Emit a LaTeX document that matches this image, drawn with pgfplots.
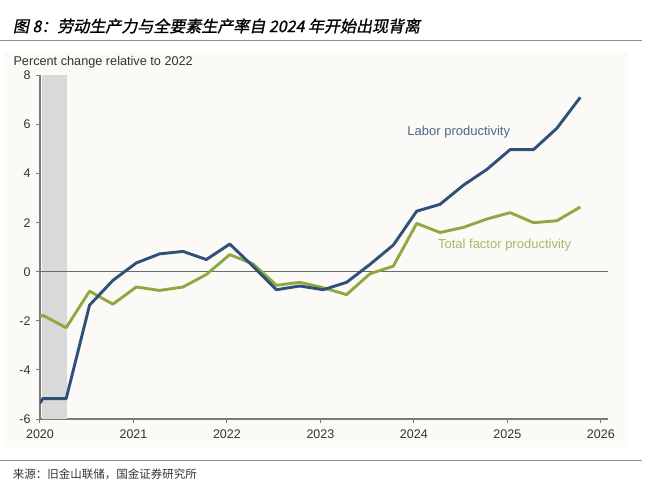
\documentclass[border=0pt]{standalone}
\usepackage{fontspec}
\usepackage{pgfplots}
\pgfplotsset{compat=1.18}
\setmainfont{Liberation Sans}
\newfontfamily\cjk{Noto Sans CJK SC}
\newfontfamily\cjktitle{Noto Sans CJK SC}[FakeSlant=0.2,FakeBold=1.2]
\definecolor{lab}{HTML}{2F5079}
\definecolor{tfp}{HTML}{8FA841}
\definecolor{labtxt}{HTML}{4F6788}
\definecolor{tfptxt}{HTML}{A6B86C}
\definecolor{axgray}{HTML}{7A7A7A}
\definecolor{zerogray}{HTML}{6A6A6A}
\definecolor{shade}{HTML}{D9D9D9}
\definecolor{panel}{HTML}{FBFAF6}
\definecolor{txt}{HTML}{333333}
\definecolor{rule}{HTML}{8C8C8C}
\begin{document}
\begin{tikzpicture}[x=1pt,y=1pt]
\path[use as bounding box] (0,0) rectangle (660,491);
\fill[panel] (4,44) rectangle (628,439);
\draw[rule,line width=1.1pt] (0,450.3) -- (642,450.3);
\draw[rule,line width=1.1pt] (0,30.7) -- (642,30.7);
\node[anchor=west,inner sep=0pt,text=black] at (12.7,465) {\cjktitle\fontsize{16}{18}\selectfont 图 8：劳动生产力与全要素生产率自 2024 年开始出现背离};
\node[anchor=west,inner sep=0pt,text=txt] at (12.7,17) {\cjk\fontsize{11.5}{13}\selectfont 来源：旧金山联储，国金证券研究所};
\node[anchor=west,inner sep=0pt,text=txt] at (13.3,429) {\fontsize{12.7}{15}\selectfont Percent change relative to 2022};
\begin{axis}[
  at={(40pt,72pt)}, anchor=south west,
  scale only axis, width=568.3pt, height=343.5pt,
  xmin=2020, xmax=2026.08, ymin=-6, ymax=8,
  axis lines*=left,
  axis line style={axgray,line width=1.2pt},
  xtick={2020,2021,2022,2023,2024,2025,2026},
  xticklabels={2020,2021,2022,2023,2024,2025,2026},
  ytick={-6,-4,-2,0,2,4,6,8},
  tick align=outside, major tick length=4pt,
  tick style={axgray,line width=1pt},
  /pgf/number format/assume math mode=true,
  /pgf/number format/1000 sep={},
  ticklabel style={font=\fontsize{12.5}{14}\selectfont, text=txt},
  yticklabel style={xshift=-2pt},
  xticklabel style={yshift=-3.5pt},
  clip=true,
]
\addplot[draw=none, fill=shade, forget plot] coordinates {(2020.02,-6) (2020.02,8) (2020.285,8) (2020.285,-6)} -- cycle;
\addplot[zerogray, line width=1.1pt, forget plot] coordinates {(2020,0) (2026.08,0)};
\addplot[tfp, line width=2.9pt, line join=round] coordinates {
(2020.00,-1.84) (2020.03,-1.77) (2020.28,-2.28) (2020.53,-0.79) (2020.78,-1.32)
(2021.03,-0.62) (2021.28,-0.76) (2021.53,-0.62) (2021.78,-0.11)
(2022.03,0.70) (2022.28,0.32) (2022.53,-0.55) (2022.78,-0.43)
(2023.03,-0.65) (2023.28,-0.93) (2023.53,-0.08) (2023.78,0.23)
(2024.03,1.97) (2024.28,1.60) (2024.53,1.81) (2024.78,2.15)
(2025.03,2.41) (2025.28,2.00) (2025.53,2.08) (2025.78,2.64)
};
\addplot[lab, line width=2.9pt, line join=round] coordinates {
(2020.00,-5.35) (2020.03,-5.17) (2020.28,-5.17) (2020.53,-1.36) (2020.78,-0.35)
(2021.03,0.36) (2021.28,0.73) (2021.53,0.83) (2021.78,0.50)
(2022.03,1.13) (2022.28,0.22) (2022.53,-0.73) (2022.78,-0.58)
(2023.03,-0.73) (2023.28,-0.43) (2023.53,0.30) (2023.78,1.09)
(2024.03,2.47) (2024.28,2.75) (2024.53,3.53) (2024.78,4.17)
(2025.03,4.98) (2025.28,4.98) (2025.53,5.85) (2025.78,7.11)
};
\node[text=labtxt, font=\fontsize{13}{15}\selectfont] at (axis cs:2024.48,5.71) {Labor productivity};
\node[text=tfptxt, font=\fontsize{13}{15}\selectfont] at (axis cs:2024.97,1.09) {Total factor productivity};
\end{axis}
\end{tikzpicture}
\end{document}
